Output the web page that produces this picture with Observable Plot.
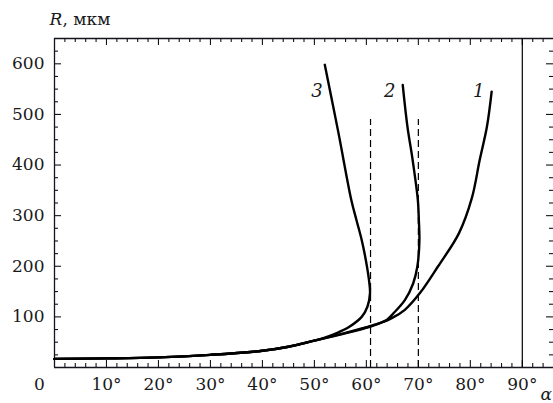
<!DOCTYPE html>
<html>
<head>
<meta charset="utf-8">
<script src="https://cdn.jsdelivr.net/npm/d3@7"></script>
<script src="https://cdn.jsdelivr.net/npm/@observablehq/plot@0.6"></script>
<style>
  html, body { margin: 0; padding: 0; background: #fff; overflow: hidden; }
</style>
</head>
<body>
<div id="chart"></div>
<script>
// ---- data ----
const alpha1 = [0, 10, 20, 30, 40, 45, 50, 55, 60.8, 64.8, 67.4, 70.3, 73.8, 77.8, 80.3, 81.8, 83.2, 84.1];
const R1     = [17, 18, 20, 25, 33, 41, 53, 65, 81, 97, 114, 147, 200, 265, 335, 410, 476, 545];

const alpha2 = [0, 10, 20, 30, 40, 45, 50, 55, 60.8, 63.9, 65.2, 67.4, 69.0, 69.8, 70.2, 70.1, 69.9, 68.9, 67.9, 67.0];
const R2     = [17, 18, 20, 25, 33, 41, 53, 66, 82, 94, 107, 133, 166, 199, 250, 290, 331, 410, 476, 558];

const alpha3 = [0, 10, 20, 30, 40, 45, 50, 52, 54.3, 56.8, 59.1, 60.2, 60.7, 60.5, 59.9, 59.1, 58.1, 57.1, 54.6, 52.0];
const R3     = [17, 18, 20, 25, 33, 41, 53, 59, 68, 81, 100, 120, 147, 173, 212, 252, 291, 331, 465, 598];

const curveNames  = ["1", "2", "3"];
const labelAlpha  = [81.6, 64.5, 50.5];
const labelR      = [545, 545, 545];

const dashAlpha = [60.8, 70.0];
const dashTop   = 490;
const limitAlpha = [90];

const xMajor = [10, 20, 30, 40, 50, 60, 70, 80, 90];
const xMinor = [2, 4, 6, 8, 12, 14, 16, 18, 22, 24, 26, 28, 32, 34, 36, 38, 42, 44, 46, 48,
                52, 54, 56, 58, 62, 64, 66, 68, 72, 74, 76, 78, 82, 84, 86, 88, 92, 94];
const yMajor = [100, 200, 300, 400, 500, 600];
const yMinor = [25, 50, 75, 125, 150, 175, 225, 250, 275, 325, 350, 375, 425, 450, 475, 525, 550, 575, 625];

const xDomain = [0, 96];
const yDomain = [0, 650];

// ---- layout ----
const W = 553, H = 403;
const mL = 54, mR = 0, mT = 38, mB = 36;
const frameH = H - mT - mB;
const frameW = W - mL - mR;
const majorLen = 7, minorLen = 4;
const font = "DejaVu Serif";
const ink = "#000";
const axisInk = "#14141e";

const toPts = (a, r) => a.map((v, i) => ({alpha: v, R: r[i]}));
const lines = [toPts(alpha1, R1), toPts(alpha2, R2), toPts(alpha3, R3)];

const xMajorT = xMajor.slice(), yMajorT = yMajor.slice();
const frameX = [xDomain[0]], frameY = yDomain.slice();

const txt = {fill: "#1a1a1a", fontFamily: font};

const chart = Plot.plot({
  width: W, height: H,
  marginLeft: mL, marginRight: mR, marginTop: mT, marginBottom: mB,
  x: {domain: xDomain, axis: null},
  y: {domain: yDomain, axis: null},
  marks: [
    Plot.ruleX(frameX, {stroke: axisInk, strokeWidth: 1.3}),
    Plot.ruleY(frameY, {stroke: axisInk, strokeWidth: 1.3}),
    Plot.tickX(xMajorT, {x: d => d, insetTop: frameH - majorLen, stroke: axisInk, strokeWidth: 1.1}),
    Plot.tickX(xMajorT, {x: d => d, insetBottom: frameH - majorLen, stroke: axisInk, strokeWidth: 1.1}),
    Plot.tickX(xMinor, {x: d => d, insetTop: frameH - minorLen, stroke: axisInk, strokeWidth: 1.1}),
    Plot.tickX(xMinor, {x: d => d, insetBottom: frameH - minorLen, stroke: axisInk, strokeWidth: 1.1}),
    Plot.tickY(yMajorT, {y: d => d, insetRight: frameW - majorLen, stroke: axisInk, strokeWidth: 1.1}),
    Plot.tickY(yMajorT, {y: d => d, insetLeft: frameW - majorLen, stroke: axisInk, strokeWidth: 1.1}),
    Plot.tickY(yMinor, {y: d => d, insetRight: frameW - minorLen, stroke: axisInk, strokeWidth: 1.1}),
    Plot.tickY(yMinor, {y: d => d, insetLeft: frameW - minorLen, stroke: axisInk, strokeWidth: 1.1}),
    Plot.ruleX(limitAlpha, {stroke: ink, strokeWidth: 1.2}),
    Plot.ruleX(dashAlpha, {y1: 0, y2: dashTop, stroke: ink, strokeWidth: 1.2, strokeDasharray: "7,4"}),
    ...lines.map(pts => Plot.line(pts, {x: "alpha", y: "R", curve: "catmull-rom", stroke: "#000", strokeWidth: 2.4})),
    Plot.text(curveNames, {x: (d, i) => labelAlpha[i], y: (d, i) => labelR[i], text: d => d,
      fontSize: 18, fontStyle: "italic", ...txt}),
    Plot.text(yMajor, {x: 0, y: d => d, text: d => String(d), dx: -10, textAnchor: "end",
      fontSize: 17, ...txt}),
    Plot.text(xMajor, {x: d => d, y: 0, text: d => d + "°", dy: 17, fontSize: 17, ...txt}),
    Plot.text(["0"], {x: 0, y: 0, text: d => d, dx: -15, dy: 17, fontSize: 17, ...txt}),
    Plot.text(["R"], {x: 0, y: 650, text: d => d, dx: -5, dy: -19, textAnchor: "start",
      fontSize: 17, fontStyle: "italic", ...txt}),
    Plot.text([", мкм"], {x: 0, y: 650, text: d => d, dx: 8, dy: -19, textAnchor: "start",
      fontSize: 17, ...txt}),
    Plot.text(["α"], {x: 96, y: 0, text: d => d, dx: -13, dy: 27, textAnchor: "start",
      fontSize: 17, fontStyle: "italic", ...txt})
  ]
});
document.getElementById("chart").appendChild(chart);
</script>
</body>
</html>
